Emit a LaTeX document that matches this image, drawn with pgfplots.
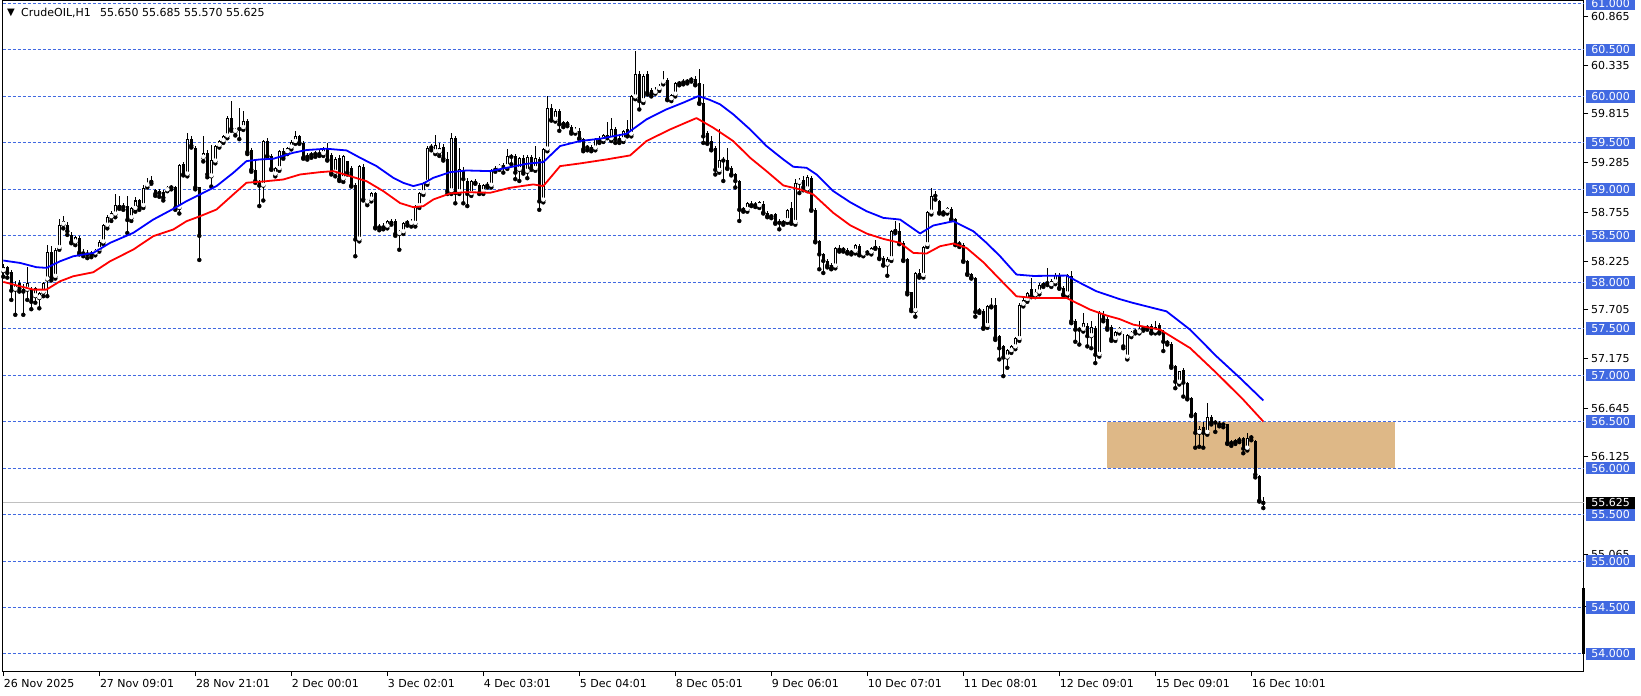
\documentclass[border=0pt]{standalone}
\usepackage{pgfplots}
\pgfplotsset{compat=1.18}
\usepackage{pgfplotstable}
\usepackage{fontspec}
\setmainfont{DejaVu Sans}
\newcommand\lbl{\fontsize{11pt}{13pt}\selectfont}
\definecolor{lvl}{RGB}{65,105,225}
\definecolor{zone}{RGB}{222,184,135}
\definecolor{curline}{RGB}{192,192,192}

\pgfplotstableread{
i o h l c
0 58.12 58.20 58.06 58.16
1 58.16 58.18 58.05 58.10
2 58.11 58.13 57.81 57.91
3 57.92 58.01 57.65 57.97
4 57.99 58.02 57.90 57.93
5 57.93 57.98 57.65 57.90
6 57.92 58.16 57.81 57.99
7 57.92 57.95 57.71 57.79
8 57.85 57.95 57.78 57.94
9 57.83 57.90 57.72 57.88
10 57.89 58.00 57.85 57.99
11 58.03 58.40 57.85 58.33
12 58.33 58.39 58.02 58.05
13 58.06 58.37 58.04 58.35
14 58.37 58.68 58.35 58.62
15 58.62 58.71 58.58 58.66
16 58.62 58.65 58.51 58.55
17 58.51 58.54 58.42 58.43
18 58.43 58.50 58.40 58.49
19 58.48 58.50 58.30 58.32
20 58.33 58.36 58.28 58.31
21 58.32 58.35 58.26 58.30
22 58.30 58.34 58.27 58.32
23 58.31 58.36 58.29 58.35
24 58.35 58.45 58.33 58.43
25 58.43 58.63 58.41 58.62
26 58.61 58.72 58.58 58.70
27 58.70 58.77 58.66 58.75
28 58.73 58.95 58.70 58.83
29 58.83 58.93 58.79 58.81
30 58.81 58.85 58.78 58.82
31 58.82 58.93 58.53 58.67
32 58.69 58.81 58.66 58.80
33 58.79 58.92 58.76 58.88
34 58.88 58.90 58.78 58.81
35 58.82 59.05 58.80 59.01
36 59.04 59.12 59.02 59.07
37 59.08 59.14 59.06 59.10
38 58.99 59.00 58.93 58.95
39 58.96 59.00 58.92 58.98
40 58.97 58.99 58.88 58.91
41 58.99 59.04 58.98 59.03
42 59.03 59.05 59.00 59.02
43 59.02 59.04 58.78 58.80
44 58.80 59.27 58.74 59.26
45 59.27 59.29 59.15 59.16
46 59.16 59.61 59.14 59.54
47 59.54 59.57 59.45 59.47
48 59.45 59.47 59.00 59.02
49 59.02 59.03 58.24 58.50
50 59.34 59.57 59.30 59.39
51 59.39 59.42 59.13 59.16
52 59.14 59.48 59.03 59.32
53 59.30 59.48 59.28 59.47
54 59.47 59.53 59.45 59.52
55 59.52 59.58 59.50 59.57
56 59.57 59.79 59.55 59.77
57 59.77 59.95 59.63 59.65
58 59.62 59.66 59.58 59.65
59 59.65 59.88 59.54 59.66
60 59.66 59.84 59.64 59.74
61 59.74 59.76 59.38 59.40
62 59.42 59.44 59.19 59.21
63 59.21 59.31 59.07 59.09
64 59.09 59.10 58.82 59.04
65 59.04 59.53 58.88 59.52
66 59.52 59.55 59.35 59.36
67 59.36 59.38 59.21 59.22
68 59.16 59.24 59.14 59.23
69 59.22 59.42 59.20 59.41
70 59.41 59.44 59.33 59.35
71 59.40 59.46 59.38 59.45
72 59.45 59.53 59.43 59.51
73 59.51 59.63 59.49 59.57
74 59.57 59.58 59.49 59.50
75 59.50 59.52 59.33 59.34
76 59.35 59.39 59.32 59.37
77 59.37 59.40 59.34 59.38
78 59.38 59.41 59.35 59.39
79 59.39 59.42 59.36 59.38
80 59.38 59.46 59.36 59.45
81 59.45 59.50 59.31 59.32
82 59.37 59.39 59.16 59.18
83 59.18 59.35 59.14 59.33
84 59.34 59.37 59.09 59.11
85 59.11 59.37 59.08 59.36
86 59.30 59.31 59.16 59.18
87 59.23 59.25 59.03 59.04
88 59.05 59.07 58.28 58.46
89 58.46 59.26 58.44 59.25
90 59.24 59.27 58.88 58.89
91 58.86 58.90 58.83 58.89
92 58.89 58.97 58.87 58.96
93 58.96 58.97 58.58 58.59
94 58.59 58.63 58.56 58.61
95 58.61 58.64 58.57 58.59
96 58.60 58.67 58.58 58.66
97 58.66 58.68 58.62 58.64
98 58.66 58.68 58.50 58.52
99 58.52 58.56 58.35 58.55
100 58.54 58.65 58.52 58.64
101 58.64 58.67 58.61 58.65
102 58.63 58.68 58.60 58.66
103 58.63 58.83 58.60 58.82
104 58.82 58.97 58.80 58.96
105 58.96 59.08 58.94 59.07
106 59.07 59.47 59.05 59.45
107 59.45 59.49 59.42 59.47
108 59.40 59.59 59.38 59.48
109 59.40 59.50 59.36 59.44
110 59.46 59.49 59.31 59.33
111 59.33 59.40 58.95 58.98
112 58.98 59.61 58.95 59.55
113 59.55 59.57 58.85 58.96
114 58.97 59.44 58.95 59.22
115 59.21 59.24 58.85 59.11
116 59.09 59.12 58.82 58.95
117 58.95 59.10 58.93 59.09
118 59.09 59.11 59.06 59.07
119 59.05 59.07 58.95 58.96
120 58.97 59.06 58.95 59.05
121 59.05 59.08 59.02 59.04
122 59.04 59.22 59.02 59.21
123 59.21 59.25 59.19 59.23
124 59.23 59.27 59.21 59.26
125 59.26 59.28 59.18 59.24
126 59.24 59.43 59.22 59.36
127 59.35 59.38 59.27 59.36
128 59.36 59.38 59.11 59.18
129 59.21 59.35 59.09 59.34
130 59.34 59.37 59.17 59.19
131 59.19 59.37 59.12 59.35
132 59.35 59.37 59.21 59.23
133 59.22 59.47 59.20 59.34
134 59.33 59.35 58.78 58.87
135 58.88 59.44 58.86 59.43
136 59.43 60.00 59.41 59.88
137 59.88 59.92 59.74 59.75
138 59.75 59.86 59.73 59.84
139 59.84 59.86 59.63 59.70
140 59.70 59.74 59.67 59.72
141 59.72 59.74 59.68 59.70
142 59.67 59.69 59.60 59.62
143 59.62 59.67 59.60 59.65
144 59.63 59.66 59.54 59.55
145 59.54 59.55 59.41 59.43
146 59.45 59.48 59.42 59.46
147 59.46 59.48 59.41 59.43
148 59.44 59.55 59.42 59.54
149 59.54 59.57 59.50 59.52
150 59.53 59.60 59.51 59.59
151 59.58 59.72 59.55 59.56
152 59.54 59.77 59.52 59.65
153 59.65 59.67 59.50 59.54
154 59.55 59.58 59.50 59.52
155 59.53 59.64 59.51 59.63
156 59.65 59.75 59.57 59.59
157 59.59 60.01 59.57 60.00
158 59.99 60.49 59.97 60.24
159 60.24 60.27 59.86 59.95
160 59.95 60.24 59.93 60.22
161 60.24 60.27 60.02 60.04
162 60.07 60.09 60.00 60.02
163 60.04 60.10 60.03 60.07
164 60.08 60.13 60.06 60.11
165 60.15 60.27 60.13 60.18
166 60.18 60.20 59.96 59.97
167 59.97 60.03 59.95 60.02
168 60.02 60.15 60.00 60.14
169 60.14 60.17 60.12 60.15
170 60.15 60.19 60.13 60.17
171 60.17 60.19 60.14 60.16
172 60.18 60.21 60.16 60.19
173 60.19 60.22 60.12 60.13
174 60.14 60.29 59.92 59.93
175 59.93 60.13 59.50 59.57
176 59.61 59.63 59.49 59.50
177 59.52 59.57 59.42 59.43
178 59.45 59.47 59.16 59.21
179 59.20 59.65 59.18 59.32
180 59.33 59.35 59.09 59.31
181 59.32 59.45 59.22 59.23
182 59.23 59.25 59.15 59.16
183 59.16 59.18 59.02 59.09
184 59.09 59.10 58.66 58.78
185 58.78 58.81 58.76 58.80
186 58.78 58.86 58.76 58.85
187 58.84 58.87 58.82 58.83
188 58.83 58.86 58.81 58.84
189 58.82 58.87 58.80 58.86
190 58.84 58.87 58.74 58.75
191 58.75 58.77 58.70 58.71
192 58.71 58.74 58.69 58.72
193 58.73 58.75 58.63 58.64
194 58.66 58.68 58.57 58.64
195 58.64 58.67 58.62 58.66
196 58.66 58.79 58.64 58.78
197 58.80 58.86 58.63 58.64
198 58.64 59.11 58.62 59.07
199 59.07 59.12 58.96 59.10
200 59.10 59.14 58.99 59.02
201 59.00 59.15 58.98 59.13
202 59.12 59.14 58.77 58.78
203 58.78 58.80 58.43 58.44
204 58.44 58.46 58.14 58.30
205 58.30 58.32 58.10 58.23
206 58.23 58.25 58.16 58.18
207 58.19 58.21 58.14 58.15
208 58.17 58.38 58.15 58.37
209 58.37 58.40 58.33 58.35
210 58.35 58.38 58.33 58.36
211 58.35 58.37 58.31 58.32
212 58.32 58.35 58.30 58.34
213 58.33 58.41 58.31 58.40
214 58.39 58.41 58.29 58.30
215 58.30 58.34 58.28 58.33
216 58.33 58.35 58.31 58.32
217 58.32 58.38 58.30 58.37
218 58.37 58.46 58.36 58.39
219 58.37 58.39 58.25 58.26
220 58.26 58.28 58.18 58.19
221 58.19 58.27 58.07 58.25
222 58.25 58.56 58.23 58.55
223 58.55 58.66 58.53 58.57
224 58.55 58.64 58.41 58.42
225 58.42 58.44 58.23 58.24
226 58.25 58.26 57.87 57.89
227 57.89 57.90 57.69 57.71
228 57.69 58.11 57.63 58.10
229 58.10 58.14 58.05 58.07
230 58.07 58.39 58.05 58.38
231 58.40 58.77 58.38 58.76
232 58.75 59.01 58.73 58.93
233 58.93 58.98 58.89 58.94
234 58.87 58.89 58.74 58.75
235 58.75 58.78 58.73 58.76
236 58.76 58.81 58.74 58.80
237 58.79 58.81 58.67 58.68
238 58.68 58.69 58.40 58.41
239 58.41 58.44 58.38 58.42
240 58.40 58.42 58.22 58.23
241 58.23 58.24 58.08 58.09
242 58.09 58.10 58.04 58.05
243 58.05 58.06 57.63 57.68
244 57.69 57.72 57.67 57.70
245 57.69 57.71 57.50 57.51
246 57.53 57.75 57.51 57.74
247 57.74 57.83 57.73 57.75
248 57.76 57.83 57.38 57.40
249 57.42 57.43 57.17 57.29
250 57.31 57.32 56.99 57.19
251 57.19 57.28 57.08 57.27
252 57.26 57.33 57.24 57.31
253 57.30 57.41 57.28 57.40
254 57.39 57.78 57.37 57.76
255 57.76 57.83 57.74 57.81
256 57.81 57.89 57.79 57.88
257 57.93 58.05 57.84 57.85
258 57.86 57.93 57.84 57.90
259 57.89 57.99 57.87 57.97
260 57.97 58.00 57.95 57.99
261 57.99 58.15 57.97 58.00
262 57.97 58.03 57.95 58.01
263 58.00 58.10 57.98 58.08
264 58.08 58.10 57.93 57.94
265 57.94 57.96 57.86 57.87
266 57.87 58.09 57.85 58.08
267 58.07 58.12 57.56 57.58
268 57.58 57.60 57.36 57.49
269 57.49 57.52 57.33 57.51
270 57.49 57.67 57.47 57.56
271 57.53 57.56 57.31 57.42
272 57.42 57.58 57.29 57.52
273 57.51 57.53 57.13 57.22
274 57.22 57.69 57.20 57.67
275 57.65 57.69 57.58 57.60
276 57.61 57.63 57.49 57.51
277 57.52 57.54 57.37 57.39
278 57.39 57.48 57.37 57.47
279 57.47 57.52 57.45 57.51
280 57.31 57.44 57.29 57.31
281 57.19 57.44 57.17 57.43
282 57.43 57.48 57.41 57.47
283 57.47 57.50 57.45 57.49
284 57.46 57.58 57.45 57.50
285 57.50 57.53 57.48 57.51
286 57.51 57.54 57.49 57.52
287 57.53 57.55 57.45 57.46
288 57.47 57.58 57.45 57.52
289 57.54 57.56 57.45 57.46
290 57.47 57.49 57.26 57.36
291 57.36 57.38 57.33 57.35
292 57.34 57.36 57.08 57.10
293 57.10 57.11 56.86 56.93
294 56.92 57.05 56.90 57.04
295 57.06 57.08 56.77 56.92
296 56.92 56.93 56.74 56.75
297 56.75 56.76 56.56 56.57
298 56.59 56.60 56.22 56.38
299 56.38 56.45 56.23 56.42
300 56.44 56.50 56.22 56.38
301 56.38 56.70 56.36 56.55
302 56.55 56.57 56.47 56.49
303 56.49 56.52 56.39 56.51
304 56.49 56.51 56.45 56.47
305 56.47 56.49 56.44 56.48
306 56.47 56.48 56.26 56.27
307 56.27 56.30 56.24 56.28
308 56.28 56.31 56.26 56.30
309 56.30 56.33 56.28 56.31
310 56.32 56.34 56.16 56.21
311 56.21 56.38 56.19 56.32
312 56.33 56.36 56.30 56.34
313 56.29 56.30 55.90 55.93
314 55.92 55.93 55.64 55.65
315 55.650 55.685 55.570 55.625
}\candles

\pgfplotstableread{
x y
0 58.234
4.2 58.208
8.3 58.162
10.8 58.155
14.2 58.226
17.5 58.280
22.5 58.316
26.7 58.424
32.5 58.532
37.5 58.675
42.5 58.790
45.8 58.873
49.2 58.945
53.3 59.035
57.5 59.178
60.8 59.304
64.2 59.322
67.5 59.329
72.5 59.394
75.8 59.423
80.8 59.437
85.8 59.419
89.2 59.340
93.3 59.250
97.5 59.124
100 59.070
102.5 59.035
105 59.063
107.5 59.124
111.7 59.185
115.8 59.203
121.7 59.196
126.7 59.239
130.8 59.275
135 59.293
139.2 59.466
144.2 59.520
149.2 59.545
155.8 59.598
160.8 59.753
165.8 59.861
170 59.933
173.8 60.004
176.5 59.965
179.2 59.915
182.5 59.807
186.7 59.645
190.8 59.466
195 59.322
197.5 59.243
200.8 59.232
203.3 59.160
207.5 58.981
211.7 58.862
215.8 58.765
220 58.693
224.2 58.675
229.2 58.525
232.5 58.611
237.5 58.657
242.5 58.550
245.8 58.424
249.2 58.280
253.3 58.083
257.5 58.068
265.8 58.072
270 57.975
273.3 57.903
279 57.820
282.5 57.777
290.8 57.687
296.7 57.490
303.3 57.203
309.2 56.969
315 56.728
}\mablue

\pgfplotstableread{
x y
0 58.004
4.2 57.957
7.5 57.921
10.8 57.921
14.2 58.011
17.5 58.065
22.5 58.108
26.7 58.226
32.5 58.352
37.5 58.496
42.5 58.568
45.8 58.657
49.2 58.711
53.3 58.783
57.5 58.945
60.8 59.071
65.8 59.088
70 59.106
74.2 59.160
79.2 59.185
82.5 59.196
86.7 59.142
90.8 59.088
95 58.981
99.2 58.852
102.5 58.808
105 58.819
107.5 58.891
111.7 58.956
115.8 58.970
121.7 58.963
126.7 59.017
132.5 59.053
135 59.035
139.2 59.250
144.2 59.279
150.8 59.322
156.7 59.365
160.8 59.520
166.7 59.645
173.3 59.767
177.5 59.663
182.5 59.519
186.7 59.340
190.8 59.196
195 59.042
199.2 58.999
202.5 58.945
207.5 58.747
211.7 58.614
215.8 58.525
220 58.467
224.2 58.424
227.5 58.316
230.8 58.309
234.2 58.388
237.5 58.417
240.8 58.370
245 58.216
249.2 58.029
253.3 57.849
257.5 57.831
265.8 57.831
271.7 57.706
276 57.640
279 57.605
282.5 57.544
289.2 57.490
296.7 57.292
303.3 57.023
310 56.736
315 56.502
}\mared

\begin{document}
\begin{tikzpicture}
\useasboundingbox (0,0) rectangle (1641pt,696pt);
\begin{axis}[
  at={(2.5pt,24.3pt)}, anchor=south west,
  scale only axis, width=1581.5pt, height=670.7pt,
  xmin=-0.2, xmax=395.175, ymin=53.809, ymax=61.027,
  axis line style={line width=1pt, black},
  clip mode=individual,
  xtick={0,24,...,312},
  xticklabels={26 Nov 2025, 27 Nov 09:01, 28 Nov 21:01, 2 Dec 00:01, 3 Dec 02:01, 4 Dec 03:01, 5 Dec 04:01, 8 Dec 05:01, 9 Dec 06:01, 10 Dec 07:01, 11 Dec 08:01, 12 Dec 09:01, 15 Dec 09:01, 16 Dec 10:01},
  xticklabel style={font=\lbl, anchor=north west, inner sep=0pt, xshift=0.5pt, yshift=-2.5pt},
  xtick pos=left, ytick pos=right,
  tick align=outside, major tick length=4.5pt,
  tick style={black, line width=1pt},
  ytick={60.865,60.335,59.815,59.285,58.755,58.225,57.705,57.175,56.645,56.125,55.065,54.515},
  yticklabels={{},{},{},{},{},{},{},{},{},{},{},{}},
  extra y ticks={54,54.5,...,61},
  extra y tick labels={{},{},{},{},{},{},{},{},{},{},{},{},{},{},{}},
  extra y tick style={grid=major, major tick length=0pt},
  major grid style={lvl, line width=1pt, dash pattern=on 3pt off 2pt},
]
% zone
\addplot[fill=zone, draw=none, forget plot] coordinates {(275.9,56.0) (347.9,56.0) (347.9,56.5) (275.9,56.5)} -- cycle;
% current price line
\addplot[curline, line width=1pt, forget plot] coordinates {(-0.2,55.625) (395.175,55.625)};
% wicks
\addplot[black, only marks, mark=none, forget plot,
  error bars/.cd, y dir=plus, y explicit, error mark=none,
  error bar style={line width=1pt, black}]
  table[x=i, y=l, y error expr={\thisrow{h}-\thisrow{l}}] {\candles};
% bearish bodies
\addplot[black, only marks, mark=none, forget plot,
  restrict expr to domain={\thisrow{o}-\thisrow{c}}{0.00001:100},
  error bars/.cd, y dir=plus, y explicit, error mark=none,
  error bar style={line width=3pt, black}]
  table[x=i, y=c, y error expr={max(\thisrow{o}-\thisrow{c},0.011)}] {\candles};
% bullish bodies outline
\addplot[black, only marks, mark=none, forget plot,
  restrict expr to domain={\thisrow{c}-\thisrow{o}}{0:100},
  error bars/.cd, y dir=plus, y explicit, error mark=none,
  error bar style={line width=3pt, black}]
  table[x=i, y=o, y error expr={max(\thisrow{c}-\thisrow{o},0.011)}] {\candles};
% bullish bodies interior
\addplot[white, only marks, mark=none, forget plot,
  restrict expr to domain={\thisrow{c}-\thisrow{o}}{0.023:100},
  error bars/.cd, y dir=plus, y explicit, error mark=none,
  error bar style={line width=1pt, white}]
  table[x=i, y expr={\thisrow{o}+0.0108}, y error expr={\thisrow{c}-\thisrow{o}-0.0216}] {\candles};
% moving averages
\addplot[red, line width=1.8pt, line join=round, mark=none] table[x=x, y=y] {\mared};
\addplot[blue, line width=1.8pt, line join=round, mark=none] table[x=x, y=y] {\mablue};

% right scale labels
\foreach \v in {60.865,60.335,59.815,59.285,58.755,58.225,57.705,57.175,56.645,56.125,55.065,54.515}{
  \edef\tmp{\noexpand\node[font=\noexpand\lbl, anchor=west, inner sep=0pt, xshift=7pt] at (axis cs:395.175,\v) {\v};}
  \tmp
}
\foreach \v in {61.000,60.500,60.000,59.500,59.000,58.500,58.000,57.500,57.000,56.500,56.000,55.500,55.000,54.500,54.000}{
  \edef\tmp{\noexpand\node[font=\noexpand\lbl, fill=lvl, text=white, anchor=west, inner sep=0pt, minimum width=49pt, minimum height=12.5pt, xshift=2pt] at (axis cs:395.175,\v) {\v};}
  \tmp
}
\node[font=\lbl, fill=black, text=white, anchor=west, inner sep=0pt, minimum width=49pt, minimum height=12pt, xshift=2pt] at (axis cs:395.175,55.625) {55.625};
\draw[black, line width=3pt] (axis cs:395.175,54.0) -- (axis cs:395.175,54.71);
% header
\node[font=\fontsize{10pt}{10pt}\selectfont, inner sep=0pt] at (rel axis cs:0,1) [xshift=8.5pt, yshift=-12pt] {▼};
\node[font=\lbl, anchor=west, inner sep=0pt] at (rel axis cs:0,1) [xshift=18.5pt, yshift=-11.5pt] {CrudeOIL,H1\hspace{9.3pt}55.650 55.685 55.570 55.625};
\end{axis}
\end{tikzpicture}
\end{document}
